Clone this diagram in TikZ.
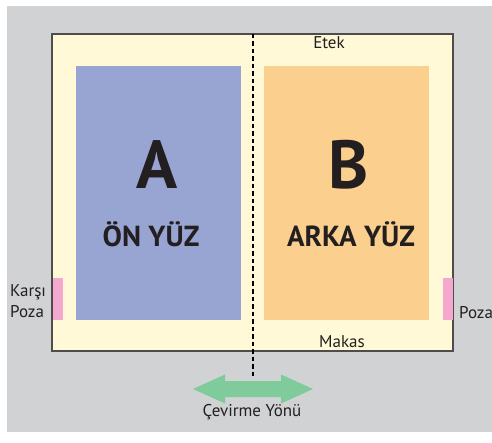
\documentclass[tikz,border=0pt]{standalone}
\usepackage{fontspec}
\setmainfont{PT Sans}
\usetikzlibrary{positioning}

\definecolor{bggray}{HTML}{D1D2D4}
\definecolor{pagecream}{HTML}{FFF9D8}
\definecolor{sideblue}{HTML}{98A5D3}
\definecolor{sideorange}{HTML}{FBCF8E}
\definecolor{posepink}{HTML}{F4A8CE}
\definecolor{flipgreen}{HTML}{7FCB9C}
\definecolor{inkgray}{HTML}{231F20}

\begin{document}
\begin{tikzpicture}[
    x=1pt, y=-1pt,
    every node/.style={text=inkgray, inner sep=0pt},
    sheet/.style={rectangle, draw=inkgray!80, line width=1.2pt, fill=pagecream, minimum width=401pt, minimum height=317pt},
    face/.style={rectangle, minimum width=165pt, minimum height=254pt},
    pose/.style={rectangle, fill=posepink, minimum width=10pt, minimum height=42pt},
    bigletter/.style={font=\fontsize{68}{68}\selectfont\bfseries, anchor=base},
    facename/.style={font=\fontsize{29}{29}\selectfont\bfseries, anchor=base},
    caption/.style={font=\fontsize{17}{20}\selectfont, anchor=base},
    fold/.style={line width=2pt, dash pattern=on 4.5pt off 3pt}
]
    \useasboundingbox (0,0) rectangle (492,443);
    \fill[bggray] (7,6) rectangle (492,432);

    % sheet and its two faces
    \node[sheet] (sheet) at (252.5,192.5) {};
    \node[face, fill=sideblue] (onyuz) at (158.5,193) {};
    \node[face, fill=sideorange] (arkayuz) at (346,193) {};
    \node[pose] (poseleft) at (58,299) {};
    \node[pose] (poseright) at (448,299) {};

    \node[bigletter] (lettera) at (157,189) {A};
    \node[facename] (namea) at (151,247) {ÖN YÜZ};
    \node[bigletter] (letterb) at (349,189) {B};
    \node[facename] (nameb) at (351,247) {ARKA YÜZ};

    \node[caption] (etek) at (329,49) {Etek};
    \node[caption] (makas) at (342,347) {Makas};
    \node[caption, anchor=base west] (karsi) at (10,297) {Karşı};
    \node[caption, anchor=base west] (pozaleft) at (10,317) {Poza};
    \node[caption, anchor=base west] (pozaright) at (459,318) {Poza};
    \node[caption] (cevirme) at (252,416) {Çevirme Yönü};

    % fold line and flip arrow
    \coordinate (foldtop) at (253,34);
    \coordinate (foldend) at (253,378);
    \draw[fold] (foldtop) -- (foldend);
    \fill[flipgreen] (193,389) -- (225,374.5) -- (225,381) -- (281,381) -- (281,374.5)
        -- (313,389) -- (281,403.5) -- (281,397) -- (225,397) -- (225,403.5) -- cycle;
\end{tikzpicture}
\end{document}
